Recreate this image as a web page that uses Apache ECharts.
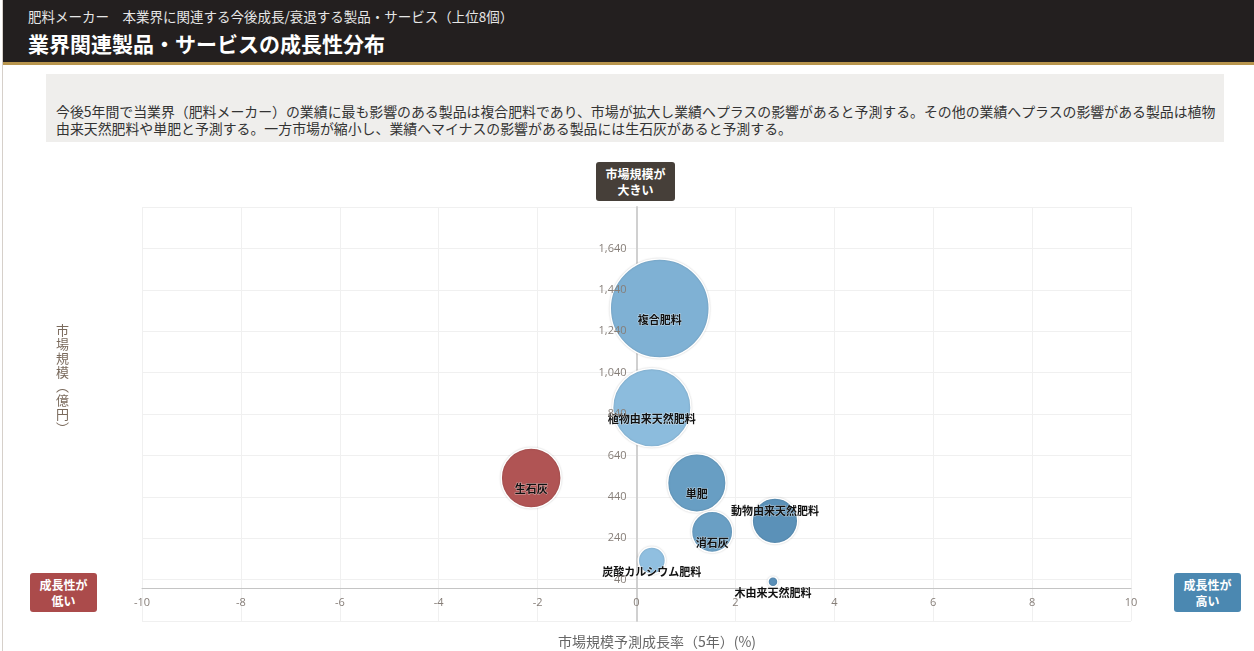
<!DOCTYPE html>
<html lang="ja">
<head>
<meta charset="utf-8">
<script src="https://cdn.jsdelivr.net/npm/echarts@6/dist/echarts.min.js"></script>
<style>
  html, body { margin: 0; padding: 0; background: #fff; }
  body { width: 1254px; height: 651px; position: relative; overflow: hidden;
         font-family: "Noto Sans CJK JP", "Noto Sans", sans-serif; }
  #chart { position: absolute; left: 0; top: 0; width: 1254px; height: 651px; }
  .ov { position: absolute; z-index: 5; }
  #leftline { left: 2px; top: 0; width: 1px; height: 651px; background: #d6d0ca; }
  #header { left: 3px; top: 0; width: 1251px; height: 62px; background: #231f1f; border-bottom: 3px solid #b8954d; }
  #sub { left: 28px; top: 6px; color: #e6e6e6; font-size: 13.5px; line-height: 20px; white-space: nowrap; }
  #title { left: 28px; top: 29px; color: #fff; font-size: 21px; font-weight: bold; line-height: 28px; white-space: nowrap; }
  #desc { left: 46px; top: 74px; width: 1178px; height: 68px; background: #efeeec; }
  #desc p { margin: 0; position: absolute; left: 10px; top: 29px; font-size: 13.9px; line-height: 17px;
            color: #333; white-space: nowrap; }
  .tag { color: #fff; font-size: 12px; font-weight: bold; line-height: 16px; text-align: center;
         border-radius: 3px; display: flex; align-items: center; justify-content: center; }
  #tagTop { left: 596px; top: 162px; width: 79px; height: 39px; background: #463f39; }
  #tagLow { left: 30px; top: 573px; width: 67px; height: 39px; background: #ab4b4b; }
  #tagHigh { left: 1174px; top: 573px; width: 67px; height: 39px; background: #4b88b1; }
  #yname { left: 53px; top: 324px; writing-mode: vertical-rl; font-size: 13px; color: #7a6a5c; letter-spacing: 1px; }
  #xname { left: 0; width: 1314px; top: 631px; text-align: center; font-size: 14px; color: #666; }
</style>
</head>
<body>
<div id="chart"></div>
<div class="ov" id="leftline"></div>
<div class="ov" id="header"></div>
<div class="ov" id="sub">肥料メーカー　本業界に関連する今後成長/衰退する製品・サービス（上位8個）</div>
<div class="ov" id="title">業界関連製品・サービスの成長性分布</div>
<div class="ov" id="desc"><p>今後5年間で当業界（肥料メーカー）の業績に最も影響のある製品は複合肥料であり、市場が拡大し業績へプラスの影響があると予測する。その他の業績へプラスの影響がある製品は植物<br>由来天然肥料や単肥と予測する。一方市場が縮小し、業績へマイナスの影響がある製品には生石灰があると予測する。</p></div>
<div class="ov tag" id="tagTop">市場規模が<br>大きい</div>
<div class="ov tag" id="tagLow">成長性が<br>低い</div>
<div class="ov tag" id="tagHigh">成長性が<br>高い</div>
<div class="ov" id="yname">市場規模（億円）</div>
<div class="ov" id="xname">市場規模予測成長率（5年）(%)</div>
<script>
// ---- data ----
const categories = ['複合肥料', '植物由来天然肥料', '単肥', '生石灰', '動物由来天然肥料', '消石灰', '炭酸カルシウム肥料', '木由来天然肥料'];
const growthRate = [0.47, 0.31, 1.22, -2.13, 2.80, 1.53, 0.31, 2.76];   // x: 市場規模予測成長率（5年）(%)
const marketSize = [1350, 870, 507, 531, 324, 271, 132, 30];           // y: 市場規模（億円）
const xAxisRange = { min: -10, max: 10, interval: 2 };
const yAxisRange = { min: -160, max: 1840, interval: 200 };

// ---- layout / styles ----
const W = 1254, H = 651;
const gridBox = { left: 142, right: 123, top: 207, bottom: 30 };
const plotW = W - gridBox.left - gridBox.right;
const plotH = H - gridBox.top - gridBox.bottom;
// shift axes (line + labels) so they cross at the origin
const yAxisShift = -plotW * (0 - xAxisRange.min) / (xAxisRange.max - xAxisRange.min);
const xAxisShift = -plotH * (0 - yAxisRange.min) / (yAxisRange.max - yAxisRange.min);

const pointColors = {
  '複合肥料': '#7fb1d4', '植物由来天然肥料': '#8cbcdd', '単肥': '#689ec3', '生石灰': '#b05454',
  '動物由来天然肥料': '#5b91b8', '消石灰': '#6a9fc4', '炭酸カルシウム肥料': '#90bfe0', '木由来天然肥料': '#5a8fb8'
};
const labelOffsets = { '動物由来天然肥料': [0, -10] };
const minBubble = 10, maxBubble = 99;
const sMin = Math.sqrt(Math.min(...marketSize)), sMax = Math.sqrt(Math.max(...marketSize));
function bubbleSize(v) {
  return minBubble + (Math.sqrt(v) - sMin) / (sMax - sMin) * (maxBubble - minBubble);
}

const seriesData = categories.map((name, i) => ({
  name: name,
  value: [growthRate[i], marketSize[i]],
  itemStyle: { color: pointColors[name] },
  label: { offset: labelOffsets[name] || [0, 11] }
}));

const yLabelStyle = {
  color: '#867e78', fontSize: 11, margin: 10, showMinLabel: false, showMaxLabel: false,
  fontFamily: 'Open Sans, sans-serif',
  formatter: v => v.toLocaleString('en-US')
};

const chart = echarts.init(document.getElementById('chart'));
chart.setOption({
  animation: false,
  grid: Object.assign({ containLabel: false }, gridBox),
  xAxis: {
    type: 'value', min: xAxisRange.min, max: xAxisRange.max, interval: xAxisRange.interval,
    position: 'bottom', offset: xAxisShift,
    axisLine: { onZero: false, lineStyle: { color: '#c4c4c4', width: 1 } },
    axisTick: { show: false },
    axisLabel: { color: '#867e78', fontSize: 11, margin: 9, fontFamily: 'Open Sans, sans-serif' },
    splitLine: { lineStyle: { color: '#f0f0f0', width: 1 } }
  },
  yAxis: [{
    // axis line + grid (below the bubbles)
    type: 'value', min: yAxisRange.min, max: yAxisRange.max, interval: yAxisRange.interval,
    position: 'left', offset: yAxisShift, z: 0,
    axisLine: { show: true, onZero: false, lineStyle: { color: '#d0d0d0', width: 2 } },
    axisTick: { show: false },
    axisLabel: { show: false },
    splitLine: { lineStyle: { color: '#f0f0f0', width: 1 } }
  }, {
    // tick labels (drawn above the bubbles)
    type: 'value', min: yAxisRange.min, max: yAxisRange.max, interval: yAxisRange.interval,
    position: 'left', offset: yAxisShift, z: 10,
    axisLine: { show: false, onZero: false },
    axisTick: { show: false },
    axisLabel: yLabelStyle,
    splitLine: { show: false }
  }],
  series: [{
    type: 'scatter',
    yAxisIndex: 0,
    data: seriesData,
    symbolSize: val => bubbleSize(val[1]),
    itemStyle: { borderColor: '#fff', borderWidth: 1.5, shadowBlur: 2, shadowColor: 'rgba(0,0,0,0.18)', opacity: 1 },
    label: {
      show: true, position: 'inside', formatter: p => p.name,
      color: '#111', fontSize: 11, fontWeight: 'bold',
      fontFamily: '"Noto Sans CJK JP", sans-serif',
      textBorderColor: 'rgba(255,255,255,0.5)', textBorderWidth: 1
    },
    emphasis: { disabled: true }
  }]
});
</script>
</body>
</html>
